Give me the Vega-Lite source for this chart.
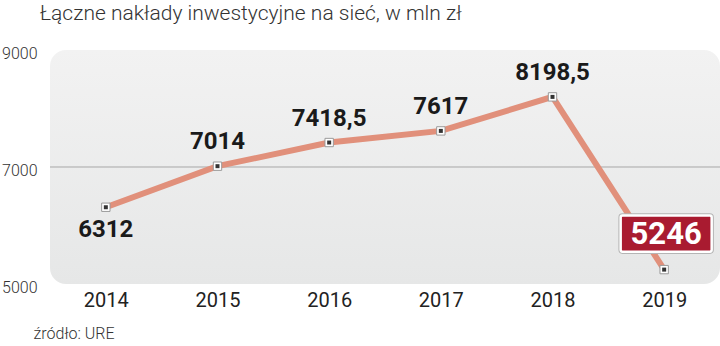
{
  "$schema": "https://vega.github.io/schema/vega-lite/v6.json",
  "width": 670,
  "height": 234,
  "autosize": {"type": "none"},
  "padding": {"left": 50, "top": 50, "right": 0, "bottom": 62},
  "background": "#ffffff",
  "title": {
    "text": "Łączne nakłady inwestycyjne na sieć, w mln zł",
    "anchor": "start",
    "frame": "group",
    "dx": -10,
    "offset": 21,
    "font": "Roboto",
    "fontSize": 21,
    "fontWeight": 300,
    "color": "#333333"
  },
  "data": {
    "values": [
      {"year": "2014", "value": 6312},
      {"year": "2015", "value": 7014},
      {"year": "2016", "value": 7418.5},
      {"year": "2017", "value": 7617},
      {"year": "2018", "value": 8198.5},
      {"year": "2019", "value": 5246}
    ]
  },
  "encoding": {
    "x": {
      "field": "year",
      "type": "ordinal",
      "scale": {"type": "point", "padding": 0.5},
      "axis": {
        "title": "źródło: URE",
        "titleAnchor": "start",
        "titleAlign": "left",
        "titleX": -17,
        "titleY": 49,
        "titleBaseline": "middle",
        "titleFont": "Roboto",
        "titleFontSize": 16,
        "titleFontWeight": 300,
        "titleColor": "#333333",
        "labelAngle": 0,
        "labelFont": "Roboto",
        "labelFontSize": 20,
        "labelColor": "#222222",
        "labelPadding": 6,
        "ticks": false,
        "domain": false,
        "grid": false
      }
    },
    "y": {
      "field": "value",
      "type": "quantitative",
      "scale": {"domain": [5000, 9000], "nice": false, "zero": false},
      "axis": {
        "title": null,
        "values": [5000, 7000, 9000],
        "format": "d",
        "labelFont": "Roboto",
        "labelFontSize": 16,
        "labelFontWeight": 300,
        "labelColor": "#333333",
        "labelPadding": 13,
        "labelOffset": 3,
        "labelFlush": false,
        "ticks": false,
        "domain": false,
        "grid": false
      }
    }
  },
  "layer": [
    {
      "mark": {"type": "rule", "color": "#c9c9c9", "strokeWidth": 1},
      "encoding": {"y": {"datum": 7000}, "x": null}
    },
    {
      "mark": {"type": "line", "color": "#e1907b", "strokeWidth": 6}
    },
    {
      "mark": {"type": "point", "shape": "square", "filled": true, "fill": "#ffffff", "stroke": "#9a9a9a", "strokeWidth": 1, "size": 70, "opacity": 1}
    },
    {
      "mark": {"type": "point", "shape": "square", "filled": true, "fill": "#333333", "size": 16, "opacity": 1}
    },
    {
      "transform": [{"filter": "datum.year != '2014' && datum.year != '2019'"}],
      "mark": {"type": "text", "font": "Roboto", "fontSize": 24, "fontWeight": "bold", "color": "#1a1a1a", "dy": -24, "baseline": "middle"},
      "encoding": {"text": {"field": "value", "type": "quantitative", "format": "~f"}}
    },
    {
      "transform": [{"filter": "datum.year == '2014'"}],
      "mark": {"type": "text", "font": "Roboto", "fontSize": 24, "fontWeight": "bold", "color": "#1a1a1a", "dy": 23, "baseline": "middle"},
      "encoding": {"text": {"field": "value", "type": "quantitative", "format": "~f"}}
    },
    {
      "transform": [{"filter": "datum.year == '2019'"}],
      "mark": {"type": "point", "shape": "M-0.96,-0.396 H0.96 A0.04,0.04 0 0 1 1,-0.356 V0.356 A0.04,0.04 0 0 1 0.96,0.396 H-0.96 A0.04,0.04 0 0 1 -1,0.356 V-0.356 A0.04,0.04 0 0 1 -0.96,-0.396 Z", "size": 8281, "filled": true, "fill": "#a91b30", "stroke": "#b5b5b5", "strokeWidth": 4.5, "opacity": 1, "xOffset": 2, "yOffset": -36}
    },
    {
      "transform": [{"filter": "datum.year == '2019'"}],
      "mark": {"type": "point", "shape": "M-0.96,-0.396 H0.96 A0.04,0.04 0 0 1 1,-0.356 V0.356 A0.04,0.04 0 0 1 0.96,0.396 H-0.96 A0.04,0.04 0 0 1 -1,0.356 V-0.356 A0.04,0.04 0 0 1 -0.96,-0.396 Z", "size": 8281, "filled": true, "fill": "#a91b30", "stroke": "#ffffff", "strokeWidth": 2.5, "opacity": 1, "xOffset": 2, "yOffset": -36}
    },
    {
      "transform": [{"filter": "datum.year == '2019'"}],
      "mark": {"type": "text", "font": "Roboto", "fontSize": 31, "fontWeight": "bold", "color": "#ffffff", "dx": 2, "dy": -35, "baseline": "middle"},
      "encoding": {"text": {"field": "value", "type": "quantitative", "format": "~f"}}
    }
  ],
  "config": {
    "locale": {"number": {"decimal": ",", "thousands": " ", "grouping": [3], "currency": ["", " zł"]}},
    "view": {
      "stroke": null,
      "cornerRadius": 16,
      "fill": {"gradient": "linear", "x1": 0, "y1": 0, "x2": 0, "y2": 1, "stops": [{"offset": 0, "color": "#f2f2f2"}, {"offset": 1, "color": "#e6e7e7"}]}
    }
  }
}
